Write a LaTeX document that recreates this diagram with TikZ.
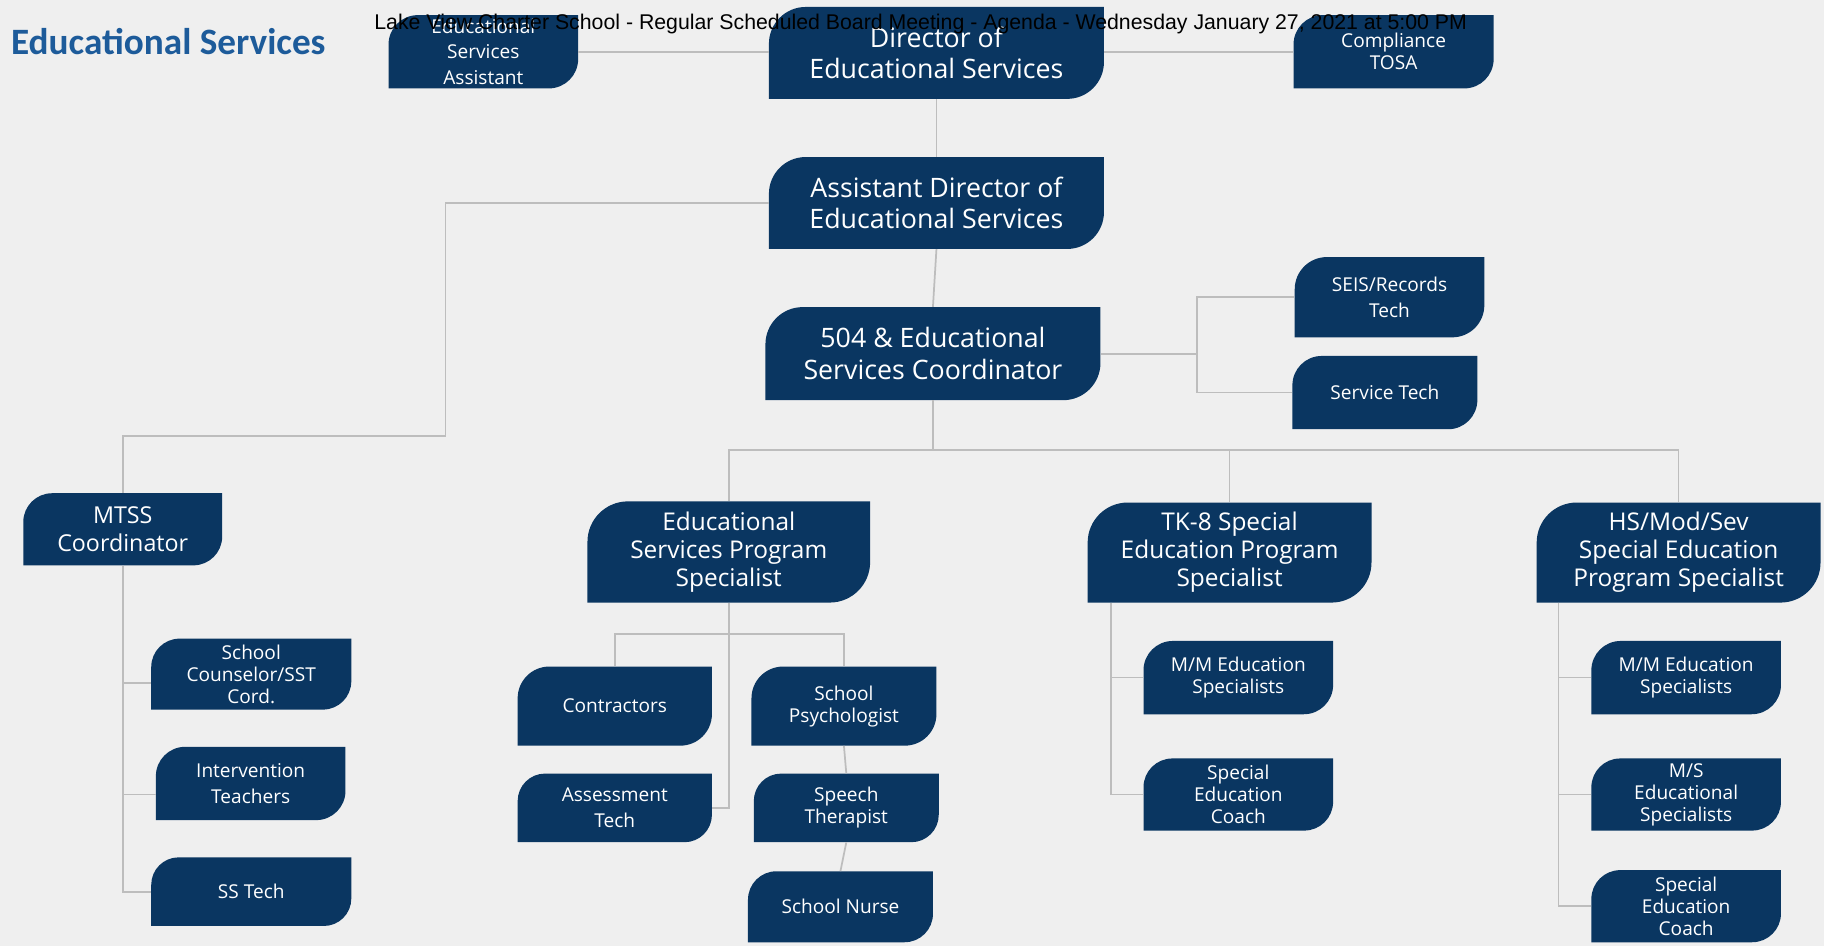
\documentclass[tikz,border=0pt]{standalone}
\usepackage{fontspec}
\setmainfont{Open Sans}
\newfontfamily\headfont{Liberation Sans}
\newfontfamily\titlefont{Carlito}
\usetikzlibrary{calc,positioning}
\definecolor{pagebg}{HTML}{EFEFEF}
\definecolor{cardnavy}{HTML}{0A3661}
\definecolor{linkgray}{HTML}{BDBDBD}
\definecolor{titleblue}{HTML}{1D5B9A}

\begin{document}
\begin{tikzpicture}[x=1pt, y=-1pt,
    card/.style 2 args={fill=pagebg, inner sep=0pt, align=center, text=white,
      minimum width=#1, minimum height=#2,
      path picture={\fill[cardnavy] let \p1=(path picture bounding box.north west),
          \p2=(path picture bounding box.south east), \n1={0.4*(\y1-\y2)} in
          (\x1,\y1-\n1) arc[start angle=180, end angle=90, radius=\n1*1pt] -- (\x2,\y1)
          -- (\x2,\y2+\n1) arc[start angle=0, end angle=-90, radius=\n1*1pt] -- (\x1,\y2) -- cycle;}},
    big/.style={font=\fontsize{23}{27}\selectfont},
    mid/.style={font=\fontsize{21}{24}\selectfont},
    midsmall/.style={font=\fontsize{20}{24}\selectfont},
    small/.style={font=\fontsize{16.4}{19}\selectfont},
    smallwide/.style={font=\fontsize{16.4}{22}\selectfont},
    link/.style={draw=linkgray, line width=1.5pt}]

    \fill[pagebg] (0,0) rectangle (1568,813);
    \useasboundingbox (0,0) rectangle (1568,813);

    \node[anchor=west, text=titleblue, font=\titlefont\bfseries\fontsize{32}{36}\selectfont] (title) at (6,36) {Educational Services};

    % Top row
    \node[card={163}{63}, smallwide] (esa) at (415.5,44.5) {Educational\\Services\\Assistant};
    \node[card={288}{79}, big] (dir) at (805,45.5) {Director of\\Educational Services};
    \node[card={172}{63}, small] (tosa) at (1198,44.5) {Compliance\\TOSA};

    % Middle column
    \node[card={288}{79}, big] (ad) at (805,174.5) {Assistant Director of\\Educational Services};
    \node[card={288}{80}, big] (coord) at (802,304) {504 \& Educational\\Services Coordinator};
    \node[card={163}{69}, smallwide] (seis) at (1194.5,255.5) {SEIS/Records\\Tech};
    \node[card={159}{63}, small] (stech) at (1190.5,337.5) {Service Tech};

    % MTSS branch
    \node[card={171}{62}, midsmall] (mtss) at (105.5,455) {MTSS\\Coordinator};
    \node[card={172}{61}, small] (couns) at (216,579.5) {School\\Counselor/SST\\Cord.};
    \node[card={163}{63}, smallwide] (interv) at (215.5,673.5) {Intervention\\Teachers};
    \node[card={172}{59}, small] (sstech) at (216,766.5) {SS Tech};

    % Program specialists
    \node[card={243}{87}, mid] (esps) at (626.5,474.5) {Educational\\Services Program\\Specialist};
    \node[card={244}{86}, mid] (tk8) at (1057,475) {TK-8 Special\\Education Program\\Specialist};
    \node[card={244}{86}, mid] (hs) at (1443,475) {HS/Mod/Sev\\Special Education\\Program Specialist};

    % Under educational services program specialist
    \node[card={167}{68}, small] (contr) at (528.5,607) {Contractors};
    \node[card={167}{59}, smallwide] (assess) at (528.5,694.5) {Assessment\\Tech};
    \node[card={159}{68}, small] (psych) at (725.5,607) {School\\Psychologist};
    \node[card={159}{59}, small] (speech) at (727.5,694.5) {Speech\\Therapist};
    \node[card={159}{61}, small] (nurse) at (722.5,779.5) {School Nurse};

    % Under TK-8
    \node[card={163}{63}, small] (mm1) at (1064.5,582.5) {M/M Education\\Specialists};
    \node[card={163}{62}, small] (coach1) at (1064.5,683) {Special\\Education\\Coach};

    % Under HS/Mod/Sev
    \node[card={163}{63}, small] (mm2) at (1449.5,582.5) {M/M Education\\Specialists};
    \node[card={163}{62}, small] (ms) at (1449.5,683) {M/S\\Educational\\Specialists};
    \node[card={163}{62}, small] (coach2) at (1449.5,779) {Special\\Education\\Coach};

    % Bends
    \coordinate (mtssbend) at (383,375);
    \coordinate (techjoin) at (1029,304);
    \coordinate (specjoin) at (802,387);

    % Edges
    \draw[link] (esa.east) -- (esa.east -| dir.west);
    \draw[link] (tosa.west) -- (tosa.west -| dir.east);
    \draw[link] (dir.south) -- (ad.north);
    \draw[link] (ad.south) -- (coord.north);
    \draw[link] (coord.east) -- (techjoin);
    \draw[link] (seis.west) -| (techjoin) |- (stech.west);
    \draw[link] (ad.west) -| (mtssbend) -| (mtss.north);
    \draw[link] (mtss.south) |- ([yshift=-7.5]couns.west);
    \draw[link] (mtss.south) |- ([yshift=-9.5]interv.west);
    \draw[link] (mtss.south) |- (sstech.west);
    \draw[link] (coord.south) -- (specjoin);
    \draw[link] (esps.north) |- (specjoin) -| (hs.north);
    \draw[link] (tk8.north) -- (tk8.north |- specjoin);
    \draw[link] (esps.south) |- (assess.east);
    \draw[link] (contr.north) |- ([yshift=-27]esps.south) -| (psych.north);
    \draw[link] (psych.south) -- (speech.north);
    \draw[link] (speech.south) -- (nurse.north);
    \draw[link] ([xshift=20]tk8.south west) |- (mm1.west);
    \draw[link] ([xshift=20]tk8.south west) |- (coach1.west);
    \draw[link] ([xshift=19]hs.south west) |- (mm2.west);
    \draw[link] ([xshift=19]hs.south west) |- (ms.west);
    \draw[link] ([xshift=19]hs.south west) |- (coach2.west);

    % Page header
    \node[font=\headfont\fontsize{18.3}{21}\selectfont, text=black] (head) at (791.5,21) {Lake View Charter School - Regular Scheduled Board Meeting - Agenda - Wednesday January 27, 2021 at 5:00 PM};

\end{tikzpicture}
\end{document}
